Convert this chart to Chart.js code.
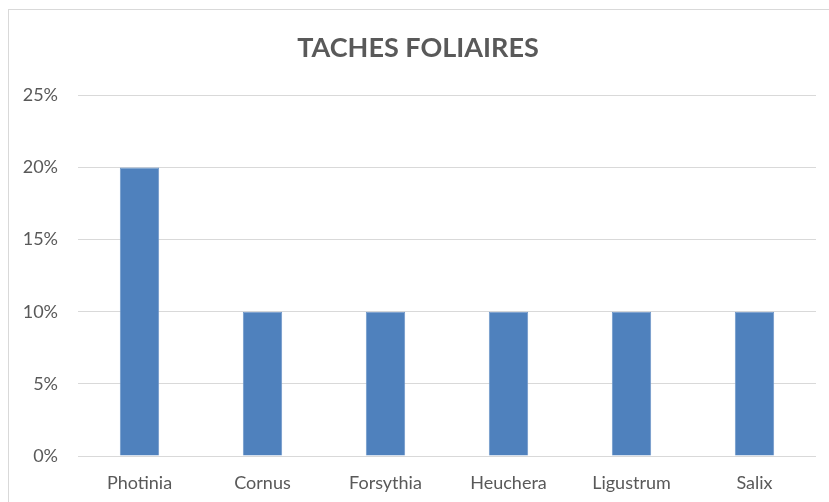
<!DOCTYPE html>
<html>
<head>
<meta charset="utf-8">
<script src="https://cdn.jsdelivr.net/npm/chart.js@4/dist/chart.umd.min.js"></script>
<style>
    html, body { margin: 0; padding: 0; background: #fff; }
    body { width: 829px; height: 502px; position: relative; overflow: hidden; }
    .frame {
        position: absolute; left: 8px; top: 9px; width: 900px; height: 600px;
        border-left: 1px solid #d9d9d9; border-top: 1px solid #d9d9d9;
    }
    .chart-box { position: absolute; left: 0; top: 0; width: 829px; height: 502px; }
</style>
</head>
<body>
<div class="frame"></div>
<div class="chart-box">
    <canvas id="myChart" width="829" height="502"></canvas>
</div>
<script>
// data
const plants = ['Photinia', 'Cornus', 'Forsythia', 'Heuchera', 'Ligustrum', 'Salix'];
const spots = [20, 10, 10, 10, 10, 10];
const yTicks = [0, 5, 10, 15, 20, 25];

const textColor = '#595959';

const ctx = document.getElementById('myChart');
var myChart = new Chart(ctx, {
    type: 'bar',
    data: {
        labels: plants,
        datasets: [{
            label: 'Taches foliaires',
            data: spots,
            backgroundColor: '#4f81bd',
            borderColor: '#6f97c9',
            borderWidth: 1,
            categoryPercentage: 1,
            barPercentage: 0.32
        }]
    },
    options: {
        responsive: false,
        animation: false,
        // left padding pushes the title a bit right, like the original
        layout: { padding: { left: 20, right: 13, top: 0, bottom: 0 } },
        plugins: {
            legend: { display: false },
            tooltip: { enabled: false },
            title: {
                display: true,
                text: 'TACHES FOLIAIRES',
                color: textColor,
                font: { family: 'Lato', size: 27, weight: 'bold', lineHeight: 1.2 },
                padding: { top: 32, bottom: 31 }
            }
        },
        scales: {
            x: {
                grid: { display: false, drawTicks: false },
                border: { display: false },
                ticks: {
                    color: textColor,
                    padding: 16,
                    font: { family: 'Lato', size: 18 }
                },
                afterFit: function (axis) { axis.height = 46; }
            },
            y: {
                min: 0,
                max: 25,
                afterBuildTicks: function (axis) {
                    axis.ticks = yTicks.map(v => ({ value: v }));
                },
                grid: { color: '#d9d9d9', lineWidth: 1, drawTicks: false },
                border: { display: false },
                ticks: {
                    color: textColor,
                    padding: 20,
                    font: { family: 'Lato', size: 18 },
                    callback: function (v) { return v + '%'; }
                },
                afterFit: function (axis) { axis.width = 58; }
            }
        }
    }
});
</script>
</body>
</html>
